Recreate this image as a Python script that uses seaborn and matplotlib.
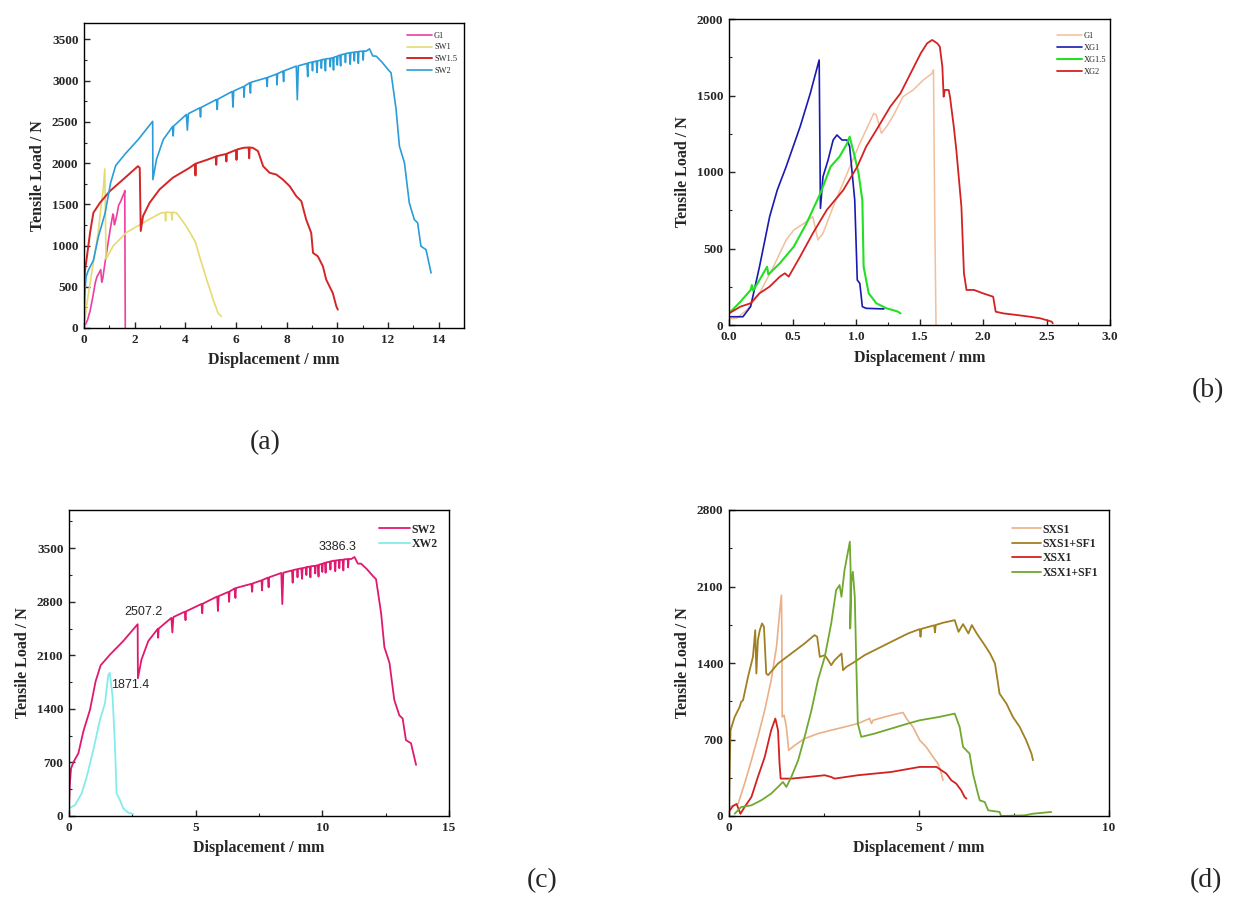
import matplotlib.pyplot as plt
import seaborn as sns
from matplotlib.ticker import MultipleLocator

# ---------------- data ----------------
# G1 curve (shown in (a) and (b))
g1_x = [0.0, 0.06, 0.14, 0.24, 0.35, 0.45, 0.51, 0.59, 0.66, 0.70, 0.74, 0.82, 0.93, 1.03,
        1.14, 1.16, 1.20, 1.24, 1.29, 1.37, 1.45, 1.53, 1.60, 1.61, 1.62, 1.63]
g1_y = [40, 44, 98, 207, 381, 556, 621, 664, 708, 556, 599, 773, 991, 1187,
        1383, 1372, 1253, 1296, 1362, 1492, 1536, 1601, 1645, 1667, 708, 0]

# (a) SW1
sw1_x = [0.0, 0.10, 0.37, 0.56, 0.69, 0.76, 0.82, 0.84, 0.87, 1.15, 1.67, 2.46, 3.05, 3.20,
         3.22, 3.24, 3.45, 3.47, 3.49, 3.65, 3.85, 4.03, 4.20, 4.40, 4.57, 4.83, 5.10, 5.29, 5.42]
sw1_y = [0, 270, 794, 1157, 1519, 1680, 1930, 1500, 834, 995, 1157, 1298, 1398, 1400,
         1300, 1405, 1400, 1310, 1405, 1396, 1315, 1237, 1150, 1040, 860, 600, 344, 182, 142]

# (a) SW1.5
sw15_x = [0.0, 0.02, 0.04, 0.10, 0.24, 0.37, 0.63, 1.02, 1.54, 2.13, 2.20, 2.24, 2.33, 2.59,
          2.98, 3.50, 4.16, 4.38, 4.40, 4.42, 4.88, 5.20, 5.22, 5.24, 5.60, 5.62, 5.64, 5.88,
          6.00, 6.02, 6.04, 6.28, 6.50, 6.52, 6.54, 6.67, 6.87, 7.07, 7.33, 7.59, 7.85, 8.12,
          8.38, 8.58, 8.77, 8.97, 9.04, 9.23, 9.43, 9.56, 9.82, 9.96, 10.02]
sw15_y = [250, 600, 700, 830, 1157, 1398, 1519, 1660, 1801, 1963, 1942, 1177, 1358, 1519,
          1680, 1822, 1942, 1990, 1850, 1995, 2043, 2080, 1980, 2085, 2110, 2020, 2115, 2145,
          2160, 2040, 2165, 2185, 2190, 2060, 2190, 2185, 2145, 1963, 1882, 1862, 1801, 1720,
          1599, 1538, 1315, 1153, 911, 870, 749, 587, 425, 263, 223]

# SW2 curve (shown in (a) and (c))
sw2_x = [0.0, 0.03, 0.08, 0.17, 0.37, 0.57, 0.83, 1.05, 1.25, 1.62, 2.15, 2.71, 2.72, 2.86,
         3.13, 3.50, 3.52, 3.54, 4.04, 4.08, 4.12, 4.57, 4.60, 4.62, 5.23, 5.26, 5.28, 5.85,
         5.88, 5.91, 6.30, 6.32, 6.34, 6.54, 6.57, 6.59, 7.20, 7.23, 7.25, 7.60, 7.62, 7.64,
         7.85, 7.88, 7.90, 8.38, 8.42, 8.46, 8.80, 8.83, 8.85, 9.00, 9.02, 9.04, 9.17, 9.20,
         9.22, 9.35, 9.37, 9.39, 9.50, 9.53, 9.55, 9.70, 9.72, 9.74, 9.82, 9.85, 9.87, 9.98,
         10.00, 10.02, 10.10, 10.13, 10.15, 10.30, 10.32, 10.34, 10.48, 10.51, 10.53, 10.65,
         10.67, 10.69, 10.80, 10.83, 10.85, 11.00, 11.02, 11.04, 11.14, 11.27, 11.40, 11.53,
         11.75, 12.00, 12.12, 12.32, 12.45, 12.65, 12.84, 13.04, 13.17, 13.30, 13.50, 13.70]
sw2_y = [100, 400, 620, 700, 820, 1110, 1390, 1760, 1970, 2110, 2290, 2507, 1800, 2044,
         2287, 2445, 2330, 2450, 2590, 2400, 2600, 2671, 2560, 2675, 2772, 2650, 2775, 2870,
         2680, 2875, 2930, 2800, 2935, 2975, 2850, 2980, 3035, 2930, 3040, 3080, 2950, 3085,
         3116, 2990, 3120, 3177, 2770, 3180, 3210, 3050, 3215, 3225, 3120, 3228, 3238, 3100,
         3240, 3250, 3150, 3255, 3260, 3120, 3265, 3270, 3170, 3272, 3278, 3130, 3285, 3295,
         3190, 3300, 3310, 3180, 3315, 3325, 3220, 3330, 3339, 3200, 3340, 3345,
         3240, 3348, 3350, 3210, 3355, 3358, 3250, 3360, 3359, 3386, 3300, 3298,
         3230, 3136, 3096, 2651, 2206, 2003, 1518, 1315, 1275, 992, 951, 668]

# (b) XG1, XG1.5, XG2
xg1_x = [0.0, 0.11, 0.17, 0.24, 0.32, 0.38, 0.45, 0.56, 0.64, 0.71, 0.72, 0.74, 0.78, 0.82,
         0.85, 0.89, 0.93, 0.95, 0.99, 1.01, 1.03, 1.05, 1.08, 1.22]
xg1_y = [54, 54, 120, 381, 708, 882, 1035, 1296, 1514, 1732, 762, 969, 1078, 1209,
         1242, 1209, 1209, 1166, 817, 294, 272, 120, 109, 105]

xg15_x = [0.0, 0.09, 0.17, 0.18, 0.19, 0.24, 0.30, 0.31, 0.40, 0.51, 0.61, 0.72, 0.80, 0.87,
          0.93, 0.95, 0.99, 1.02, 1.05, 1.06, 1.10, 1.16, 1.24, 1.29, 1.33, 1.35]
xg15_y = [76, 152, 229, 261, 225, 294, 381, 330, 403, 512, 664, 861, 1035, 1100,
          1187, 1231, 1100, 991, 817, 381, 207, 142, 109, 98, 87, 76]

xg2_x = [0.0, 0.09, 0.17, 0.24, 0.32, 0.40, 0.44, 0.47, 0.56, 0.66, 0.77, 0.90, 1.01, 1.08,
         1.16, 1.27, 1.35, 1.43, 1.51, 1.56, 1.60, 1.64, 1.66, 1.68, 1.69, 1.70, 1.73, 1.74,
         1.77, 1.79, 1.83, 1.85, 1.87, 1.93, 2.00, 2.08, 2.10, 2.16, 2.27, 2.37, 2.45, 2.54, 2.55]
xg2_y = [76, 120, 142, 207, 251, 316, 338, 316, 447, 599, 752, 882, 1035, 1166,
         1274, 1427, 1514, 1645, 1776, 1841, 1863, 1841, 1819, 1688, 1492, 1536, 1536, 1492,
         1296, 1144, 773, 338, 229, 229, 207, 185, 87, 76, 65, 54, 44, 22, 11]

# (c) XW2
xw2_x = [0.0, 0.24, 0.50, 0.70, 0.96, 1.22, 1.42, 1.55, 1.61, 1.72, 1.81, 1.88, 2.01, 2.14, 2.34, 2.53]
xw2_y = [100, 144, 296, 514, 863, 1255, 1473, 1844, 1871, 1561, 950, 296, 209, 100, 44, 26]

# (c) annotated values
note_text = ['2507.2', '1871.4', '3386.3']
note_x = [2.93, 2.40, 10.6]
note_y = [2663, 1710, 3510]

# (d) SXS1, SXS1+SF1, XSX1, XSX1+SF1
sxs1_x = [0.02, 0.24, 0.41, 0.59, 0.76, 0.94, 1.11, 1.25, 1.33, 1.38, 1.39, 1.40, 1.45, 1.51,
          1.57, 1.73, 1.99, 2.34, 2.69, 3.04, 3.39, 3.70, 3.75, 3.79, 4.10, 4.45, 4.58, 4.67,
          4.84, 5.02, 5.19, 5.37, 5.50, 5.59, 5.63]
sxs1_y = [82, 113, 296, 510, 724, 968, 1243, 1548, 1853, 2021, 1700, 907, 922, 815,
          601, 647, 708, 754, 785, 815, 846, 892, 846, 876, 907, 937, 947, 892,
          815, 693, 632, 540, 479, 388, 327]

sxs1sf_x = [0.0, 0.02, 0.04, 0.15, 0.28, 0.32, 0.37, 0.50, 0.63, 0.69, 0.72, 0.76, 0.81, 0.87,
            0.92, 0.98, 1.03, 1.29, 1.64, 1.99, 2.25, 2.32, 2.39, 2.52, 2.61, 2.69, 2.78, 2.96,
            3.00, 3.09, 3.31, 3.57, 3.92, 4.27, 4.71, 5.02, 5.04, 5.06, 5.40, 5.42, 5.44, 5.63,
            5.94, 6.04, 6.16, 6.30, 6.39, 6.52, 6.70, 6.87, 7.00, 7.12, 7.30, 7.47, 7.65, 7.82,
            7.96, 8.00]
sxs1sf_y = [20, 480, 785, 907, 998, 1044, 1060, 1273, 1456, 1700, 1304, 1609, 1700, 1762,
            1731, 1304, 1289, 1395, 1487, 1579, 1655, 1640, 1456, 1472, 1426, 1380, 1426, 1487,
            1334, 1365, 1411, 1472, 1533, 1594, 1670, 1710, 1640, 1712, 1745, 1680, 1748, 1768,
            1792, 1685, 1756, 1670, 1747, 1670, 1578, 1487, 1395, 1120, 1029, 907, 815, 693,
            571, 510]

xsx1_x = [0.0, 0.10, 0.20, 0.30, 0.41, 0.59, 0.76, 0.94, 1.11, 1.22, 1.29, 1.33, 1.36, 1.64,
          2.08, 2.52, 2.69, 2.78, 3.39, 4.27, 5.02, 5.46, 5.59, 5.72, 5.85, 5.98, 6.11, 6.20, 6.25]
xsx1_y = [40, 90, 110, 20, 82, 174, 357, 540, 785, 892, 785, 479, 342, 342,
          357, 373, 357, 342, 373, 403, 449, 449, 418, 388, 327, 296, 235, 174, 159]

xsx1sf_x = [0.15, 0.32, 0.59, 0.85, 1.11, 1.29, 1.42, 1.51, 1.64, 1.82, 1.99, 2.17, 2.34, 2.52,
            2.69, 2.82, 2.91, 2.96, 3.04, 3.18, 3.20, 3.19, 3.22, 3.26, 3.31, 3.35, 3.39, 3.48,
            3.83, 4.27, 4.71, 5.02, 5.54, 5.94, 6.07, 6.16, 6.33, 6.42, 6.55, 6.60, 6.73, 6.82,
            7.12, 7.16, 7.78, 8.00, 8.48]
xsx1sf_y = [21, 82, 98, 144, 205, 266, 311, 266, 357, 510, 724, 968, 1243, 1456,
            1762, 2067, 2113, 2006, 2250, 2510, 2250, 1716, 2143, 2235, 2006, 1395, 846, 724,
            754, 800, 846, 876, 907, 937, 815, 632, 571, 388, 205, 143, 128, 52,
            37, 0, 6, 21, 37]

# ---------------- style ----------------
sns.set_style("ticks")
plt.rcParams['font.family'] = ['Liberation Serif', 'DejaVu Serif']
plt.rcParams['axes.linewidth'] = 1.0

fig = plt.figure(figsize=(12.33, 9.02), dpi=100)
W, H = 1233, 902


def make_ax(left, top, right, bottom):
    return fig.add_axes([left / W, 1 - bottom / H, (right - left) / W, (bottom - top) / H])


def style_ax(ax, xlim, ylim, xmajor, xminor, ymajor, yminor, xfmt=None):
    ax.set_xlim(*xlim)
    ax.set_ylim(*ylim)
    ax.xaxis.set_major_locator(MultipleLocator(xmajor))
    ax.xaxis.set_minor_locator(MultipleLocator(xminor))
    ax.yaxis.set_major_locator(MultipleLocator(ymajor))
    ax.yaxis.set_minor_locator(MultipleLocator(yminor))
    if xfmt:
        ax.xaxis.set_major_formatter(xfmt)
    ax.tick_params(which='major', direction='in', length=4, width=1, labelsize=9.5, pad=4)
    ax.tick_params(which='minor', direction='in', length=2.5, width=0.8)
    for lab in ax.get_xticklabels() + ax.get_yticklabels():
        lab.set_fontweight('bold')
    for s in ax.spines.values():
        s.set_visible(True)
        s.set_color('black')
    ax.set_xlabel('Displacement / mm', fontsize=11.5, fontweight='bold', labelpad=5)
    ax.set_ylabel('Tensile Load / N', fontsize=11.5, fontweight='bold', labelpad=4)


def draw(ax, xs, ys, color, lw, name):
    sns.lineplot(x=xs, y=ys, sort=False, estimator=None, color=color, lw=lw, label=name, ax=ax)


# ---------------- (a) ----------------
ax_a = make_ax(84, 23, 464, 328)
draw(ax_a, g1_x, g1_y, '#ee3fa0', 1.2, 'G1')
draw(ax_a, sw1_x, sw1_y, '#e4dc72', 1.2, 'SW1')
draw(ax_a, sw15_x, sw15_y, '#d42626', 1.4, 'SW1.5')
draw(ax_a, sw2_x, sw2_y, '#2a9dd8', 1.2, 'SW2')
style_ax(ax_a, (0, 15), (0, 3700), 2, 1, 500, 250)
ax_a.legend(loc='upper left', bbox_to_anchor=(0.84, 0.985), frameon=False, fontsize=6,
            handlelength=3, handletextpad=0.2, labelspacing=0.45, borderpad=0)

# ---------------- (b) ----------------
ax_b = make_ax(729, 19, 1110, 325)
draw(ax_b, g1_x, g1_y, '#f0c09c', 1.1, 'G1')
draw(ax_b, xg1_x, xg1_y, '#1a1ab0', 1.2, 'XG1')
draw(ax_b, xg15_x, xg15_y, '#22e022', 1.5, 'XG1.5')
draw(ax_b, xg2_x, xg2_y, '#d42222', 1.3, 'XG2')
style_ax(ax_b, (0, 3), (0, 2000), 0.5, 0.25, 500, 250, xfmt='{x:.1f}')
ax_b.legend(loc='upper left', bbox_to_anchor=(0.85, 0.97), frameon=False, fontsize=6,
            handlelength=3, handletextpad=0.2, labelspacing=0.45, borderpad=0)

# ---------------- (c) ----------------
ax_c = make_ax(69, 510, 449, 816)
draw(ax_c, sw2_x, sw2_y, '#e0196e', 1.3, 'SW2')
draw(ax_c, xw2_x, xw2_y, '#84ecec', 1.3, 'XW2')
style_ax(ax_c, (0, 15), (0, 4000), 5, 2.5, 700, 350)
ax_c.legend(loc='upper left', bbox_to_anchor=(0.80, 0.975), frameon=False,
            prop={'size': 8.5, 'weight': 'bold'},
            handlelength=2.6, handletextpad=0.15, labelspacing=0.2, borderpad=0)
for t, x, y in zip(note_text, note_x, note_y):
    ax_c.text(x, y, t, fontsize=9, family=['Liberation Sans', 'DejaVu Sans'],
              ha='center', va='center')

# ---------------- (d) ----------------
ax_d = make_ax(729, 510, 1109, 816)
draw(ax_d, sxs1_x, sxs1_y, '#ebb088', 1.2, 'SXS1')
draw(ax_d, sxs1sf_x, sxs1sf_y, '#a08020', 1.3, 'SXS1+SF1')
draw(ax_d, xsx1_x, xsx1_y, '#d42020', 1.3, 'XSX1')
draw(ax_d, xsx1sf_x, xsx1sf_y, '#70a830', 1.3, 'XSX1+SF1')
style_ax(ax_d, (0, 10), (0, 2800), 5, 2.5, 700, 350)
ax_d.legend(loc='upper left', bbox_to_anchor=(0.73, 0.975), frameon=False,
            prop={'size': 8.5, 'weight': 'bold'},
            handlelength=2.4, handletextpad=0.15, labelspacing=0.2, borderpad=0)

# ---------------- panel labels ----------------
for lab, x, y in [('(a)', 265, 443), ('(b)', 1208, 391), ('(c)', 542, 881), ('(d)', 1206, 881)]:
    fig.text(x / W, 1 - y / H, lab, fontsize=20, ha='center', va='center')

plt.savefig('out.png', dpi=100)
